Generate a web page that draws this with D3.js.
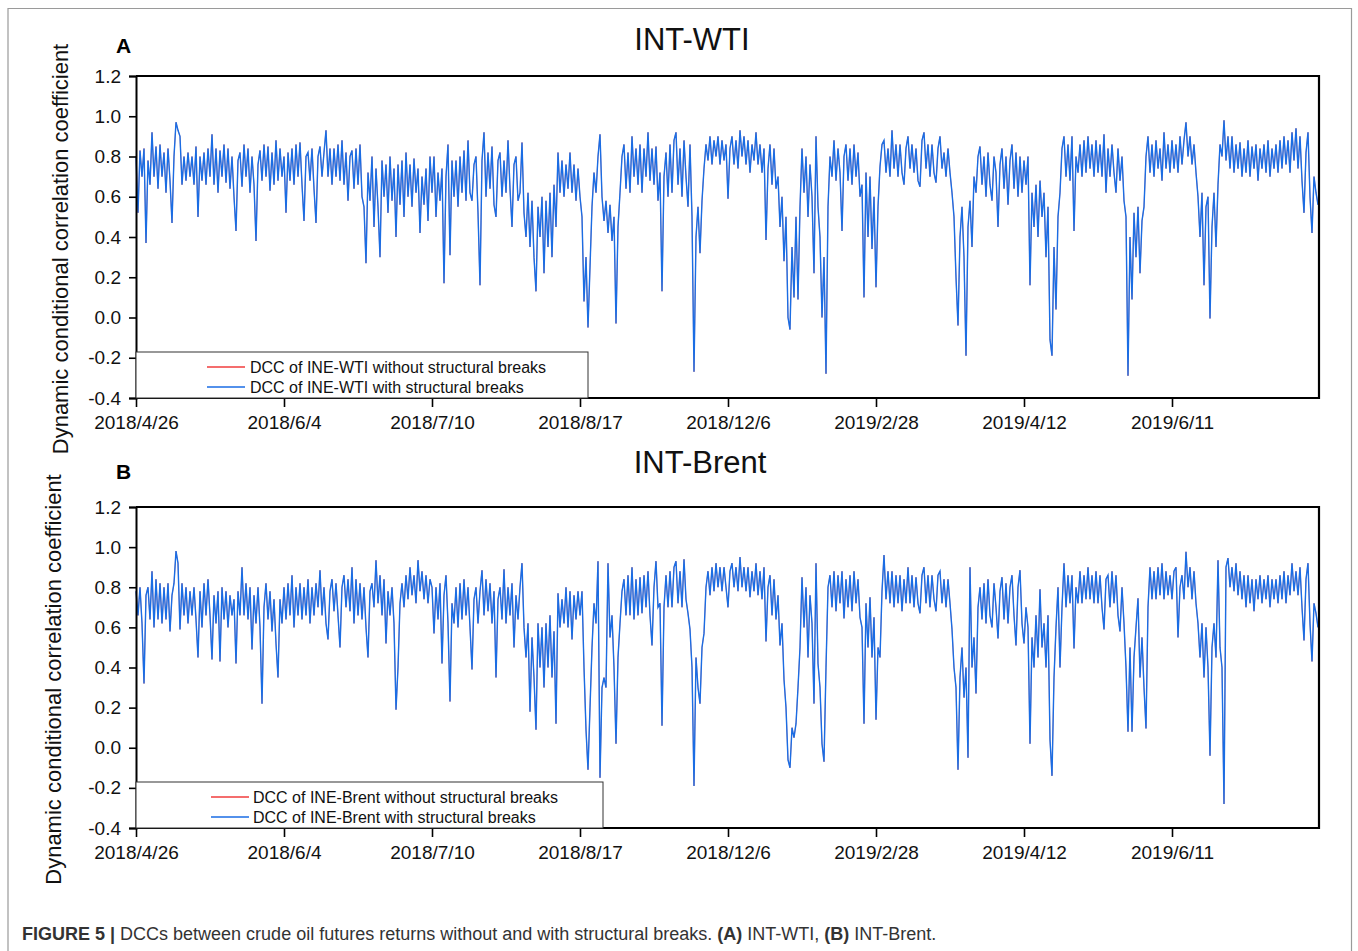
<!DOCTYPE html>
<html>
<head>
<meta charset="utf-8">
<script src="https://cdn.jsdelivr.net/npm/d3@7"></script>
<style>
  body { margin: 0; background: #fff; }
  svg { display: block; font-family: "Liberation Sans", Arial, sans-serif; }
</style>
</head>
<body>
<div class="dcc"></div>
<script>
// x axis is the observation index, labelled with a date every 74 points
const dateLabels = ["2018/4/26", "2018/6/4", "2018/7/10", "2018/8/17", "2018/12/6", "2019/2/28", "2019/4/12", "2019/6/11"];
const yTicks = [-0.4, -0.2, 0.0, 0.2, 0.4, 0.6, 0.8, 1.0, 1.2];

// INE-WTI DCC with structural breaks
const wtiWith = [
  0.80, 0.52, 0.83, 0.70, 0.84, 0.37, 0.78, 0.66, 0.92, 0.70, 0.85, 0.64, 0.86, 0.70, 0.82, 0.62, 0.84, 0.68, 0.47, 0.80, 0.97, 0.93, 0.90, 0.66, 0.80, 0.68, 0.82, 0.70, 0.80, 0.66, 0.85, 0.50, 0.80, 0.68, 0.82, 0.66, 0.84,
  0.70, 0.91, 0.66, 0.84, 0.62, 0.83, 0.70, 0.86, 0.67, 0.84, 0.64, 0.80, 0.60, 0.43, 0.78, 0.82, 0.65, 0.86, 0.70, 0.84, 0.62, 0.80, 0.66, 0.38, 0.76, 0.83, 0.68, 0.86, 0.70, 0.85, 0.63, 0.82, 0.66, 0.88, 0.68, 0.84, 0.70,
  0.80, 0.52, 0.82, 0.68, 0.84, 0.66, 0.86, 0.70, 0.87, 0.66, 0.48, 0.80, 0.82, 0.68, 0.84, 0.64, 0.47, 0.80, 0.85, 0.70, 0.82, 0.93, 0.70, 0.84, 0.66, 0.84, 0.70, 0.86, 0.68, 0.88, 0.66, 0.82, 0.58, 0.80, 0.83, 0.64, 0.84,
  0.66, 0.86, 0.60, 0.55, 0.27, 0.72, 0.58, 0.80, 0.45, 0.74, 0.55, 0.30, 0.78, 0.60, 0.76, 0.52, 0.80, 0.58, 0.74, 0.40, 0.76, 0.56, 0.78, 0.50, 0.82, 0.60, 0.76, 0.55, 0.79, 0.62, 0.74, 0.42, 0.70, 0.56, 0.74, 0.48, 0.80,
  0.62, 0.80, 0.50, 0.72, 0.58, 0.74, 0.17, 0.70, 0.86, 0.31, 0.78, 0.60, 0.78, 0.55, 0.80, 0.62, 0.83, 0.58, 0.88, 0.62, 0.58, 0.76, 0.80, 0.52, 0.16, 0.78, 0.92, 0.60, 0.82, 0.64, 0.85, 0.56, 0.50, 0.78, 0.82, 0.60, 0.78,
  0.62, 0.88, 0.64, 0.45, 0.76, 0.80, 0.58, 0.62, 0.87, 0.52, 0.40, 0.62, 0.35, 0.58, 0.30, 0.13, 0.55, 0.40, 0.60, 0.22, 0.58, 0.35, 0.62, 0.30, 0.66, 0.45, 0.82, 0.62, 0.78, 0.60, 0.76, 0.64, 0.82, 0.62, 0.76, 0.58, 0.74,
  0.60, 0.50, 0.08, 0.30, -0.05, 0.25, 0.55, 0.72, 0.62, 0.80, 0.91, 0.60, 0.48, 0.58, 0.42, 0.56, 0.38, 0.50, -0.03, 0.45, 0.62, 0.80, 0.86, 0.64, 0.82, 0.62, 0.90, 0.70, 0.84, 0.66, 0.86, 0.62, 0.84, 0.70, 0.92, 0.68, 0.84,
  0.66, 0.85, 0.58, 0.72, 0.13, 0.70, 0.82, 0.60, 0.86, 0.62, 0.88, 0.92, 0.66, 0.84, 0.60, 0.88, 0.70, 0.55, 0.86, 0.50, -0.27, 0.40, 0.55, 0.32, 0.58, 0.74, 0.86, 0.78, 0.90, 0.76, 0.88, 0.80, 0.90, 0.76, 0.88, 0.78, 0.86,
  0.59, 0.84, 0.90, 0.76, 0.88, 0.74, 0.93, 0.80, 0.90, 0.76, 0.88, 0.72, 0.86, 0.78, 0.92, 0.76, 0.86, 0.72, 0.84, 0.385, 0.74, 0.86, 0.66, 0.84, 0.64, 0.70, 0.45, 0.60, 0.28, 0.50, 0.00, -0.06, 0.35, 0.10, 0.50, 0.09, 0.55,
  0.84, 0.62, 0.80, 0.50, 0.76, 0.60, 0.22, 0.90, 0.55, 0.40, 0.00, 0.30, -0.28, 0.55, 0.80, 0.70, 0.88, 0.68, 0.84, 0.72, 0.43, 0.80, 0.86, 0.68, 0.84, 0.66, 0.86, 0.70, 0.82, 0.60, 0.66, 0.10, 0.72, 0.40, 0.70, 0.34, 0.60,
  0.15, 0.55, 0.75, 0.86, 0.88, 0.72, 0.84, 0.70, 0.93, 0.74, 0.86, 0.70, 0.86, 0.72, 0.66, 0.84, 0.90, 0.74, 0.86, 0.72, 0.84, 0.68, 0.65, 0.88, 0.92, 0.74, 0.86, 0.70, 0.86, 0.72, 0.67, 0.84, 0.90, 0.74, 0.82, 0.70, 0.84,
  0.72, 0.62, 0.50, 0.20, -0.04, 0.40, 0.55, 0.30, -0.19, 0.45, 0.58, 0.35, 0.70, 0.62, 0.80, 0.85, 0.66, 0.80, 0.60, 0.82, 0.66, 0.58, 0.80, 0.72, 0.45, 0.76, 0.84, 0.64, 0.80, 0.56, 0.78, 0.86, 0.64, 0.82, 0.60, 0.80, 0.62,
  0.78, 0.66, 0.80, 0.16, 0.62, 0.45, 0.66, 0.40, 0.68, 0.50, 0.62, 0.30, 0.55, -0.11, -0.19, 0.35, 0.04, 0.50, 0.62, 0.84, 0.90, 0.70, 0.86, 0.68, 0.90, 0.43, 0.80, 0.72, 0.86, 0.70, 0.88, 0.72, 0.90, 0.74, 0.86, 0.70, 0.88,
  0.72, 0.86, 0.70, 0.91, 0.62, 0.84, 0.70, 0.86, 0.72, 0.62, 0.84, 0.68, 0.80, 0.58, 0.50, -0.29, 0.40, 0.09, 0.52, 0.30, 0.55, 0.22, 0.48, 0.55, 0.80, 0.90, 0.72, 0.86, 0.70, 0.88, 0.74, 0.84, 0.68, 0.92, 0.74, 0.86, 0.72,
  0.88, 0.74, 0.86, 0.72, 0.90, 0.76, 0.88, 0.97, 0.80, 0.90, 0.76, 0.86, 0.72, 0.60, 0.40, 0.62, 0.16, 0.55, 0.60, -0.005, 0.45, 0.62, 0.35, 0.66, 0.86, 0.80, 0.98, 0.78, 0.90, 0.74, 0.90, 0.72, 0.86, 0.74, 0.87, 0.70, 0.84,
  0.72, 0.88, 0.70, 0.85, 0.74, 0.86, 0.68, 0.84, 0.74, 0.86, 0.72, 0.88, 0.70, 0.84, 0.74, 0.86, 0.72, 0.88, 0.74, 0.90, 0.76, 0.88, 0.72, 0.92, 0.78, 0.94, 0.74, 0.90, 0.68, 0.52, 0.82, 0.92, 0.60, 0.42, 0.70, 0.62, 0.56
];
// without structural breaks: in the figure the red line sits under the blue one
const wtiWithout = wtiWith;

// INE-Brent DCC with structural breaks
const brentWith = [
  0.78, 0.66, 0.80, 0.62, 0.32, 0.76, 0.80, 0.64, 0.88, 0.60, 0.84, 0.64, 0.82, 0.62, 0.80, 0.64, 0.82, 0.58, 0.76, 0.82, 0.98, 0.92, 0.59, 0.82, 0.66, 0.80, 0.62, 0.78, 0.66, 0.80, 0.64, 0.45, 0.78, 0.60, 0.82, 0.66, 0.84,
  0.66, 0.44, 0.76, 0.62, 0.78, 0.43, 0.80, 0.64, 0.78, 0.60, 0.76, 0.66, 0.74, 0.42, 0.78, 0.66, 0.90, 0.66, 0.82, 0.64, 0.80, 0.49, 0.76, 0.62, 0.80, 0.60, 0.22, 0.70, 0.82, 0.64, 0.78, 0.58, 0.74, 0.52, 0.35, 0.74, 0.62,
  0.80, 0.64, 0.82, 0.66, 0.86, 0.60, 0.80, 0.66, 0.82, 0.64, 0.80, 0.66, 0.84, 0.62, 0.80, 0.66, 0.82, 0.70, 0.885, 0.66, 0.80, 0.62, 0.54, 0.78, 0.84, 0.68, 0.82, 0.66, 0.50, 0.80, 0.86, 0.70, 0.84, 0.68, 0.90, 0.62, 0.84,
  0.66, 0.82, 0.64, 0.80, 0.60, 0.45, 0.78, 0.82, 0.70, 0.935, 0.72, 0.86, 0.66, 0.84, 0.52, 0.78, 0.66, 0.80, 0.62, 0.19, 0.40, 0.72, 0.82, 0.70, 0.86, 0.74, 0.90, 0.76, 0.86, 0.72, 0.935, 0.78, 0.88, 0.74, 0.86, 0.72, 0.84,
  0.80, 0.57, 0.80, 0.64, 0.82, 0.42, 0.76, 0.86, 0.62, 0.23, 0.72, 0.62, 0.80, 0.60, 0.82, 0.64, 0.84, 0.66, 0.80, 0.60, 0.39, 0.74, 0.80, 0.62, 0.78, 0.885, 0.66, 0.84, 0.68, 0.82, 0.62, 0.78, 0.35, 0.74, 0.80, 0.64, 0.89,
  0.62, 0.80, 0.66, 0.82, 0.50, 0.76, 0.64, 0.80, 0.92, 0.60, 0.45, 0.62, 0.18, 0.55, 0.35, 0.09, 0.62, 0.40, 0.60, 0.30, 0.62, 0.40, 0.66, 0.35, 0.58, 0.12, 0.77, 0.60, 0.74, 0.62, 0.80, 0.60, 0.78, 0.54, 0.76, 0.64, 0.78,
  0.66, 0.78, 0.40, 0.09, -0.11, 0.20, 0.50, 0.72, 0.62, 0.93, -0.15, 0.30, 0.35, 0.30, 0.92, 0.55, 0.66, 0.40, 0.02, 0.45, 0.62, 0.78, 0.84, 0.66, 0.86, 0.66, 0.90, 0.64, 0.84, 0.66, 0.85, 0.67, 0.86, 0.70, 0.88, 0.66, 0.51,
  0.80, 0.93, 0.70, 0.72, 0.11, 0.70, 0.86, 0.70, 0.88, 0.70, 0.90, 0.93, 0.72, 0.88, 0.70, 0.94, 0.74, 0.67, 0.59, 0.40, -0.19, 0.45, 0.30, 0.22, 0.50, 0.57, 0.80, 0.88, 0.76, 0.90, 0.78, 0.92, 0.80, 0.90, 0.78, 0.90, 0.80,
  0.70, 0.88, 0.92, 0.80, 0.90, 0.78, 0.95, 0.80, 0.90, 0.78, 0.90, 0.75, 0.88, 0.78, 0.92, 0.76, 0.88, 0.74, 0.90, 0.53, 0.80, 0.86, 0.66, 0.84, 0.64, 0.76, 0.51, 0.62, 0.34, 0.20, -0.06, -0.10, 0.10, 0.05, 0.12, 0.30, 0.50,
  0.85, 0.60, 0.80, 0.45, 0.76, 0.62, 0.22, 0.92, 0.42, 0.30, 0.02, -0.07, 0.40, 0.80, 0.86, 0.70, 0.88, 0.68, 0.86, 0.72, 0.88, 0.645, 0.84, 0.70, 0.86, 0.68, 0.88, 0.72, 0.84, 0.65, 0.60, 0.12, 0.72, 0.50, 0.75, 0.45, 0.65,
  0.14, 0.50, 0.45, 0.78, 0.96, 0.74, 0.88, 0.72, 0.88, 0.70, 0.86, 0.72, 0.86, 0.68, 0.84, 0.72, 0.90, 0.72, 0.86, 0.70, 0.85, 0.72, 0.67, 0.86, 0.90, 0.72, 0.86, 0.70, 0.86, 0.74, 0.68, 0.86, 0.88, 0.72, 0.84, 0.70, 0.84,
  0.72, 0.59, 0.40, 0.30, -0.11, 0.35, 0.50, 0.25, 0.40, -0.05, 0.90, 0.40, 0.55, 0.27, 0.70, 0.80, 0.64, 0.82, 0.62, 0.84, 0.66, 0.60, 0.82, 0.70, 0.545, 0.78, 0.85, 0.64, 0.82, 0.62, 0.80, 0.86, 0.66, 0.51, 0.80, 0.885, 0.62,
  0.52, 0.70, 0.60, 0.02, 0.55, 0.40, 0.66, 0.45, 0.79, 0.50, 0.62, 0.40, 0.66, 0.04, -0.14, 0.35, 0.60, 0.80, 0.40, 0.70, 0.92, 0.70, 0.86, 0.72, 0.86, 0.495, 0.80, 0.72, 0.88, 0.72, 0.86, 0.74, 0.90, 0.74, 0.86, 0.72, 0.88,
  0.72, 0.86, 0.70, 0.59, 0.84, 0.86, 0.70, 0.88, 0.72, 0.86, 0.66, 0.58, 0.80, 0.62, 0.40, 0.08, 0.50, 0.08, 0.45, 0.60, 0.745, 0.35, 0.55, 0.30, 0.096, 0.70, 0.90, 0.74, 0.88, 0.74, 0.90, 0.76, 0.92, 0.74, 0.88, 0.76, 0.86,
  0.74, 0.88, 0.90, 0.55, 0.80, 0.86, 0.74, 0.977, 0.80, 0.90, 0.74, 0.88, 0.72, 0.62, 0.45, 0.62, 0.35, 0.60, 0.40, -0.04, 0.50, 0.62, 0.45, 0.935, 0.50, 0.40, -0.28, 0.90, 0.945, 0.80, 0.90, 0.78, 0.92, 0.76, 0.88, 0.74, 0.86,
  0.70, 0.86, 0.72, 0.84, 0.68, 0.84, 0.74, 0.86, 0.72, 0.84, 0.74, 0.86, 0.70, 0.84, 0.74, 0.84, 0.72, 0.86, 0.74, 0.88, 0.72, 0.86, 0.76, 0.92, 0.78, 0.88, 0.76, 0.90, 0.70, 0.535, 0.84, 0.92, 0.62, 0.43, 0.72, 0.67, 0.60
];
const brentWithout = brentWith;

const width = 1358, height = 951;
const left = 136, right = 1320;
const stepsPerTick = 74;

const svg = d3.select(".dcc").append("svg")
    .attr("width", width)
    .attr("height", height);

// figure frame
svg.append("path")
    .attr("d", `M8,${height} V8.5 H1351.5 V${height}`)
    .attr("fill", "none")
    .attr("stroke", "#9a9a9a")
    .attr("stroke-width", 1.2);

const x = d3.scaleLinear()
    .domain([0, stepsPerTick * dateLabels.length])
    .range([left, right]);

const panels = [
    { top: 76, bottom: 398, title: "INT-WTI", titleX: 692, titleY: 50, letter: "A", letterX: 116, letterY: 53,
      ylabX: 68, legendW: 452, lineX: 207, textX: 250, name: "INE-WTI", without: wtiWithout, withB: wtiWith },
    { top: 507, bottom: 828, title: "INT-Brent", titleX: 700, titleY: 473, letter: "B", letterX: 116, letterY: 479,
      ylabX: 61, legendW: 467, lineX: 211, textX: 253, name: "INE-Brent", without: brentWithout, withB: brentWith }
];

panels.forEach(p => {
    const y = d3.scaleLinear().domain([-0.4, 1.2]).range([p.bottom, p.top]);
    const g = svg.append("g");

    const line = d3.line()
        .x((d, i) => x(i))
        .y(d => y(d));

    // red series is thinner so the blue one hides it, as in the figure
    g.append("path")
        .datum(p.without)
        .attr("fill", "none")
        .attr("stroke", "#f03c3c")
        .attr("stroke-width", 0.6)
        .attr("d", line);

    g.append("path")
        .datum(p.withB)
        .attr("fill", "none")
        .attr("stroke", "#1a6de4")
        .attr("stroke-width", 1.4)
        .attr("d", line);

    // box
    g.append("path")
        .attr("d", `M${left},${p.top} H1319 V${p.bottom} H${left}`)
        .attr("fill", "none")
        .attr("stroke", "#000")
        .attr("stroke-width", 2.2);

    const yAxis = g.append("g")
        .attr("transform", `translate(${left},0)`)
        .call(d3.axisLeft(y).tickValues(yTicks).tickFormat(d => d.toFixed(1)).tickSize(7).tickPadding(8));
    yAxis.select(".domain").attr("stroke-width", 2);
    yAxis.selectAll(".tick line").attr("stroke-width", 1.6);
    yAxis.selectAll("text").style("font-size", "19px").attr("fill", "#111");

    const xAxis = g.append("g")
        .attr("transform", `translate(0,${p.bottom})`)
        .call(d3.axisBottom(x)
            .tickValues(dateLabels.map((d, i) => i * stepsPerTick))
            .tickFormat((d, i) => dateLabels[i])
            .tickSize(9).tickPadding(9).tickSizeOuter(0));
    xAxis.select(".domain").remove();
    xAxis.selectAll(".tick line").attr("stroke-width", 1.6);
    xAxis.selectAll("text").style("font-size", "19px").attr("fill", "#111");

    // legend
    const lg = g.append("g");
    lg.append("rect")
        .attr("x", left).attr("y", p.bottom - 46)
        .attr("width", p.legendW).attr("height", 46)
        .attr("fill", "#fff")
        .attr("stroke", "#333")
        .attr("stroke-width", 1);
    [["without", "#f03c3c", 15], ["with", "#1a6de4", 35]].forEach(([k, c, dy]) => {
        lg.append("line")
            .attr("x1", p.lineX).attr("x2", p.lineX + 38)
            .attr("y1", p.bottom - 46 + dy).attr("y2", p.bottom - 46 + dy)
            .attr("stroke", c).attr("stroke-width", 1.6);
        lg.append("text")
            .attr("x", p.textX).attr("y", p.bottom - 46 + dy + 6)
            .style("font-size", "16px")
            .attr("fill", "#111")
            .text(`DCC of ${p.name} ${k} structural breaks`);
    });

    g.append("text")
        .attr("x", p.titleX).attr("y", p.titleY)
        .attr("text-anchor", "middle")
        .style("font-size", "31px")
        .attr("fill", "#111")
        .text(p.title);

    g.append("text")
        .attr("x", p.letterX).attr("y", p.letterY)
        .style("font-size", "21px")
        .style("font-weight", "bold")
        .text(p.letter);

    g.append("text")
        .attr("transform", `translate(${p.ylabX},${(p.top + p.bottom) / 2 + 12}) rotate(-90)`)
        .attr("text-anchor", "middle")
        .style("font-size", "22px")
        .attr("fill", "#111")
        .text("Dynamic conditional correlation coefficient");
});

const cap = svg.append("text")
    .attr("x", 22).attr("y", 940)
    .style("font-size", "18px")
    .attr("fill", "#333");
cap.append("tspan").style("font-weight", "bold").text("FIGURE 5 | ");
cap.append("tspan").text("DCCs between crude oil futures returns without and with structural breaks. ");
cap.append("tspan").style("font-weight", "bold").text("(A)");
cap.append("tspan").text(" INT-WTI, ");
cap.append("tspan").style("font-weight", "bold").text("(B)");
cap.append("tspan").text(" INT-Brent.");
</script>
</body>
</html>
